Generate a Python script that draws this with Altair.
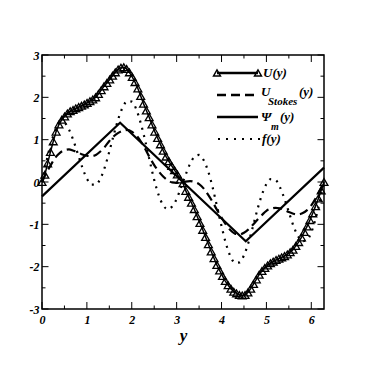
import altair as alt
import pandas as pd

# ---------------- data ----------------
X_U = [0.000, 0.063, 0.126, 0.188, 0.251, 0.314, 0.377, 0.440, 0.503, 0.565,
       0.628, 0.691, 0.754, 0.817, 0.880, 0.942, 1.005, 1.068, 1.131, 1.194,
       1.257, 1.319, 1.382, 1.445, 1.508, 1.571, 1.634, 1.696, 1.759, 1.822,
       1.885, 1.948, 2.011, 2.073, 2.136, 2.199, 2.262, 2.325, 2.388, 2.450,
       2.513, 2.576, 2.639, 2.702, 2.765, 2.827, 2.890, 2.953, 3.016, 3.079,
       3.142, 3.204, 3.267, 3.330, 3.393, 3.456, 3.519, 3.581, 3.644, 3.707,
       3.770, 3.833, 3.896, 3.958, 4.021, 4.084, 4.147, 4.210, 4.273, 4.335,
       4.398, 4.461, 4.524, 4.587, 4.650, 4.712, 4.775, 4.838, 4.901, 4.964,
       5.027, 5.089, 5.152, 5.215, 5.278, 5.341, 5.404, 5.466, 5.529, 5.592,
       5.655, 5.718, 5.781, 5.843, 5.906, 5.969, 6.032, 6.095, 6.158, 6.220,
       6.283]
U = [0.00, 0.17, 0.44, 0.71, 0.96, 1.19, 1.36, 1.47, 1.55, 1.62,
     1.67, 1.70, 1.74, 1.77, 1.80, 1.83, 1.87, 1.91, 1.95, 2.00,
     2.08, 2.17, 2.26, 2.34, 2.42, 2.51, 2.59, 2.66, 2.70, 2.71,
     2.67, 2.59, 2.48, 2.36, 2.21, 2.03, 1.85, 1.69, 1.53, 1.36,
     1.19, 1.04, 0.89, 0.74, 0.60, 0.49, 0.38, 0.28, 0.18, 0.06,
     -0.03, -0.21, -0.35, -0.49, -0.64, -0.81, -0.97, -1.13, -1.30, -1.47,
     -1.64, -1.80, -1.96, -2.09, -2.22, -2.34, -2.44, -2.52, -2.59, -2.63,
     -2.67, -2.68, -2.67, -2.61, -2.52, -2.41, -2.30, -2.19, -2.10, -2.03,
     -1.97, -1.92, -1.88, -1.84, -1.81, -1.78, -1.75, -1.71, -1.66, -1.60,
     -1.51, -1.42, -1.31, -1.18, -1.05, -0.90, -0.74, -0.57, -0.39, -0.20,
     0.00]

X_S = [0.0, 0.1, 0.2, 0.3, 0.4, 0.5, 0.6, 0.7, 0.8, 0.9,
       1.0, 1.1, 1.2, 1.3, 1.4, 1.5, 1.6, 1.7, 1.8, 1.9,
       2.0, 2.1, 2.2, 2.3, 2.4, 2.5, 2.6, 2.7, 2.8, 2.9,
       3.0, 3.1, 3.2, 3.3, 3.4, 3.5, 3.6, 3.7, 3.8, 3.9,
       4.0, 4.1, 4.2, 4.3, 4.4, 4.5, 4.6, 4.7, 4.8, 4.9,
       5.0, 5.1, 5.2, 5.3, 5.4, 5.5, 5.6, 5.7, 5.8, 5.9,
       6.0, 6.1, 6.2, 6.283]
U_STOKES = [0.00, 0.22, 0.41, 0.58, 0.69, 0.75, 0.77, 0.74, 0.70, 0.65,
            0.62, 0.61, 0.64, 0.72, 0.83, 0.97, 1.08, 1.16, 1.21, 1.23,
            1.19, 1.10, 0.96, 0.78, 0.58, 0.40, 0.25, 0.13, 0.04, -0.01,
            -0.02, -0.01, 0.01, 0.02, 0.00, -0.05, -0.15, -0.30, -0.47, -0.66,
            -0.84, -1.01, -1.14, -1.22, -1.24, -1.20, -1.12, -1.01, -0.89, -0.78,
            -0.68, -0.63, -0.61, -0.62, -0.66, -0.71, -0.75, -0.77, -0.74, -0.67,
            -0.55, -0.38, -0.18, 0.00]
F = [0.00, 0.49, 0.92, 1.23, 1.39, 1.39, 1.24, 0.98, 0.66, 0.34,
     0.08, -0.06, -0.06, 0.08, 0.35, 0.72, 1.12, 1.49, 1.77, 1.91,
     1.90, 1.72, 1.39, 0.97, 0.50, 0.05, -0.31, -0.55, -0.64, -0.58,
     -0.40, -0.12, 0.17, 0.43, 0.60, 0.64, 0.52, 0.26, -0.12, -0.58,
     -1.04, -1.46, -1.76, -1.91, -1.90, -1.73, -1.43, -1.05, -0.65, -0.30,
     -0.05, 0.07, 0.05, -0.12, -0.39, -0.71, -1.03, -1.27, -1.40, -1.37,
     -1.19, -0.85, -0.41, 0.00]

X_PSI = [0.0, 1.74, 4.54, 6.283]
PSI = [-0.34, 1.40, -1.40, 0.34]

X_MAJOR = [0, 1, 2, 3, 4, 5, 6]
X_MINOR = [0.5, 1.5, 2.5, 3.5, 4.5, 5.5]
Y_MAJOR = [-3, -2, -1, 0, 1, 2, 3]
Y_MINOR = [-2.5, -1.5, -0.5, 0.5, 1.5, 2.5]

# ---------------- chart ----------------
W, H = 282, 254
FONT = "Liberation Serif"

xscale = alt.Scale(domain=[0, 6.2832], nice=False, zero=False)
yscale = alt.Scale(domain=[-3, 3], nice=False, zero=False)

xaxis = alt.Axis(values=X_MAJOR, ticks=False, tickSize=0, domain=False, grid=False,
                 labelFlush=False, labelOverlap=False, labelPadding=5,
                 labelFont=FONT, labelFontSize=12, labelFontStyle="italic",
                 labelFontWeight="bold", labelColor="black",
                 labelExpr="toString(datum.value)",
                 titleFont=FONT, titleFontSize=17, titleFontStyle="italic",
                 titleFontWeight="bold", titleColor="black", titlePadding=2)
yaxis = alt.Axis(values=Y_MAJOR, ticks=False, tickSize=0, domain=False, grid=False,
                 labelFlush=False, labelOverlap=False, labelPadding=3,
                 labelFont=FONT, labelFontSize=12, labelFontStyle="italic",
                 labelFontWeight="bold", labelColor="black",
                 labelExpr="toString(datum.value)")


def X(field):
    return alt.X(f"{field}:Q", scale=xscale, axis=xaxis, title="y")


def Y(field):
    return alt.Y(f"{field}:Q", scale=yscale, axis=yaxis, title="")


df_u = pd.DataFrame({"x": X_U, "v": U})
df_s = pd.DataFrame({"x": X_S, "s": U_STOKES, "f": F})
df_p = pd.DataFrame({"x": X_PSI, "p": PSI})

u_line = alt.Chart(df_u).mark_line(color="black", strokeWidth=1.5).encode(x=X("x"), y=Y("v"))
u_pts = alt.Chart(df_u).mark_point(shape="triangle-up", size=62, filled=False,
                                     color="black", strokeWidth=1.3, opacity=1).encode(
    x=X("x"), y=Y("v"))
s_line = alt.Chart(df_s).mark_line(color="black", strokeWidth=2.2, strokeDash=[9, 5],
                                     interpolate="monotone").encode(x=X("x"), y=Y("s"))
f_line = alt.Chart(df_s).mark_line(color="black", strokeWidth=2.2, strokeDash=[2, 5.5],
                                     interpolate="monotone").encode(x=X("x"), y=Y("f"))
p_line = alt.Chart(df_p).mark_line(color="black", strokeWidth=2.2).encode(x=X("x"), y=Y("p"))

# inward ticks on all four sides
df_xmaj = pd.DataFrame({"t": X_MAJOR})
df_xmin = pd.DataFrame({"t": X_MINOR})
df_ymaj = pd.DataFrame({"t": Y_MAJOR})
df_ymin = pd.DataFrame({"t": Y_MINOR})
tick_layers = []
for d, ln in ((df_xmaj, 7), (df_xmin, 3.5)):
    tick_layers.append(alt.Chart(d).mark_rule(color="black", strokeWidth=1).encode(
        x=X("t"), y=alt.value(H), y2=alt.value(H - ln)))
    tick_layers.append(alt.Chart(d).mark_rule(color="black", strokeWidth=1).encode(
        x=X("t"), y=alt.value(0), y2=alt.value(ln)))
for d, ln in ((df_ymaj, 6.5), (df_ymin, 3.5)):
    tick_layers.append(alt.Chart(d).mark_rule(color="black", strokeWidth=1).encode(
        y=Y("t"), x=alt.value(0), x2=alt.value(ln)))
    tick_layers.append(alt.Chart(d).mark_rule(color="black", strokeWidth=1).encode(
        y=Y("t"), x=alt.value(W), x2=alt.value(W - ln)))

# legend (drawn by hand so the subscripts can be real text)
one = pd.DataFrame({"k": [0]})
LX0, LX1 = 175, 216
legend = [
    alt.Chart(one).mark_rule(color="black", strokeWidth=2.3).encode(
        x=alt.value(LX0), x2=alt.value(LX1), y=alt.value(18)),
    alt.Chart(one).mark_point(shape="triangle-up", size=50, filled=False, color="black",
                              strokeWidth=1.4, opacity=1).encode(x=alt.value(LX0), y=alt.value(18)),
    alt.Chart(one).mark_point(shape="triangle-up", size=50, filled=False, color="black",
                              strokeWidth=1.4, opacity=1).encode(x=alt.value(LX1), y=alt.value(18)),
    alt.Chart(one).mark_rule(color="black", strokeWidth=2.5, strokeDash=[9, 5]).encode(
        x=alt.value(LX0), x2=alt.value(LX1), y=alt.value(40)),
    alt.Chart(one).mark_rule(color="black", strokeWidth=2.5).encode(
        x=alt.value(LX0), x2=alt.value(LX1), y=alt.value(62)),
    alt.Chart(one).mark_rule(color="black", strokeWidth=2.2, strokeDash=[2, 6]).encode(
        x=alt.value(LX0 + 1), x2=alt.value(LX1 + 2), y=alt.value(84)),
]
TXT = dict(font=FONT, fontStyle="italic", fontWeight="bold", color="black",
           align="left", baseline="middle")
texts = [
    ("U(y)", 221, 18, 13),
    ("U", 219, 37, 13),
    ("Stokes", 226, 46.5, 11),
    ("(y)", 257, 37, 13),
    ("Ψ", 219, 62, 13),
    ("m", 229, 72, 10),
    ("(y)", 238, 62, 13),
    ("f(y)", 220, 84, 13),
]
for t, x, y, s in texts:
    legend.append(alt.Chart(one).mark_text(text=t, fontSize=s, **TXT).encode(
        x=alt.value(x), y=alt.value(y)))

chart = alt.layer(p_line, s_line, f_line, u_line, u_pts, *tick_layers, *legend).properties(
    width=W, height=H, autosize="none",
    padding={"left": 34, "top": 47, "right": 25, "bottom": 50},
).configure_view(stroke="black", strokeWidth=1.5)

chart.save("out.html", embed_options={"renderer": "svg", "actions": False})
